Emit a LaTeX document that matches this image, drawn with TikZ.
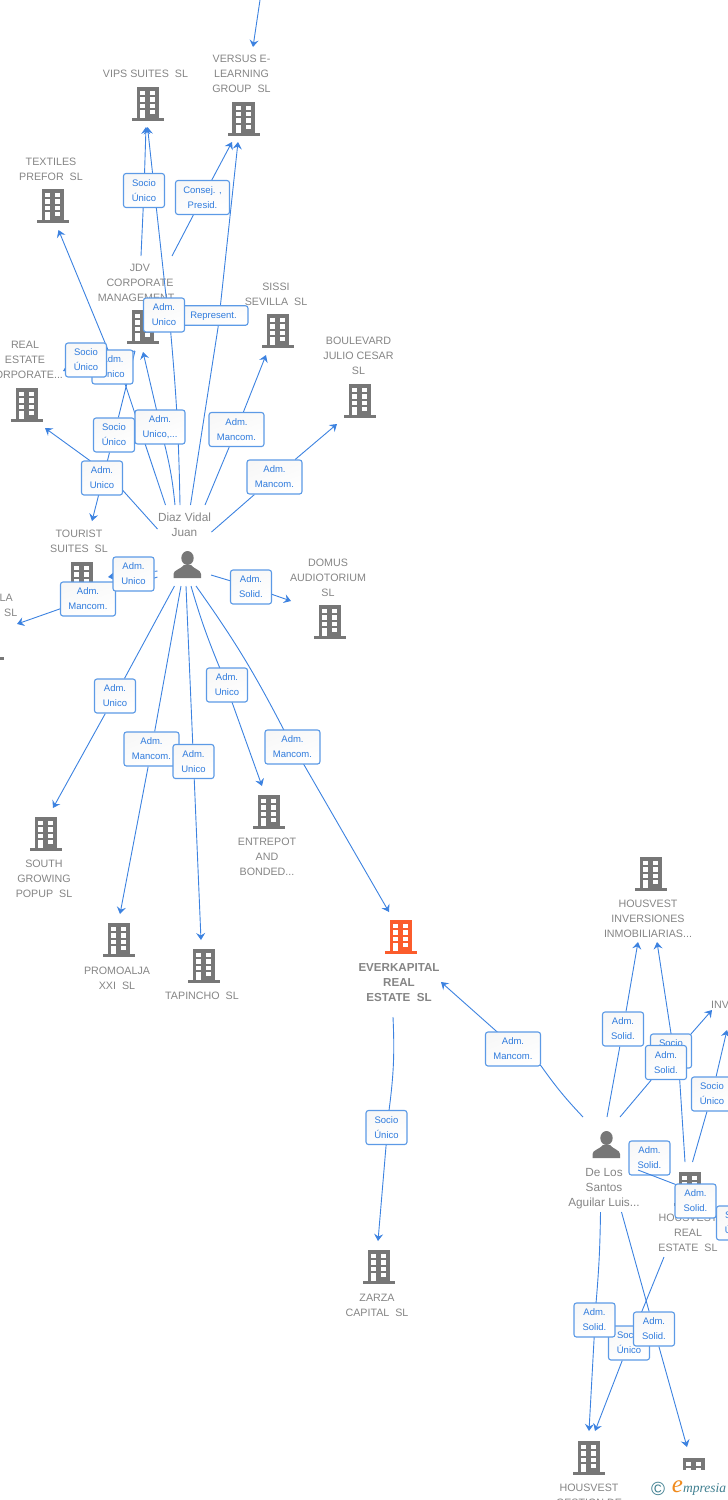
\documentclass[tikz,border=0pt]{standalone}
\usepackage{fontspec}
\setmainfont{Liberation Sans}
\newfontfamily\logofont{Liberation Serif}
\usetikzlibrary{arrows.meta,backgrounds}
\definecolor{linkblue}{HTML}{3C82E0}
\definecolor{boxblue}{HTML}{5C9AE6}
\definecolor{textblue}{HTML}{2F7BDD}
\definecolor{lblgray}{HTML}{858585}
\definecolor{iconfill}{HTML}{777777}
\definecolor{everorange}{HTML}{FB5C2C}
\definecolor{logoteal}{HTML}{3F7F90}
\definecolor{logoorange}{HTML}{F08A1C}

\begin{document}
\begin{tikzpicture}[x=1pt,y=-1pt,
    link/.style={linkblue, line width=0.9pt},
    arrowlink/.style={link, -{Stealth[length=7pt,width=9pt,inset=2.5pt]}},
    rolebox/.style={draw=boxblue, line width=1.1pt, rounded corners=2.5pt, top color=black!3, bottom color=white, shading angle=20,
      text=textblue, align=center, inner sep=0pt, minimum width=41pt, minimum height=34pt, font=\fontsize{9.5}{15}\selectfont,
      execute at begin node=\rule{0pt}{8.6pt}},
    widebox/.style={rolebox, minimum width=55pt},
    lbl/.style={text=lblgray, align=center, inner sep=0pt, yshift=-0.8pt, font=\fontsize{10.7}{15}\selectfont},
    who/.style={lbl, font=\fontsize{11.8}{15}\selectfont},
    bld/.pic={
      \fill[pic actions] (-11.3,-17) rectangle (11.3,14);
      \fill[pic actions] (-16,14) rectangle (16,17);
      \foreach \y in {-13,-6.7,-0.4} {
        \fill[white] (-8,\y) rectangle (-2.7,\y+4.4);
        \fill[white] (2,\y) rectangle (7.3,\y+4.4);
      }
      \fill[white] (-8,6) rectangle (-2.7,14);
      \fill[white] (2,6) rectangle (7.3,10.4);
    },
    person/.pic={
      \fill[iconfill] (0.5,-7) ellipse[x radius=6.2, y radius=7];
      \fill[iconfill] (-13.5,13) -- (-13.5,9) .. controls (-13.5,5) and (-6,4) .. (-3,0) -- (4,0) .. controls (7,4) and (14,5) .. (14,9) -- (14,13) -- cycle;
    }]

      \useasboundingbox (0,0) rectangle (728,1500);

      \node[rolebox] (bxsocvips) at (144,190.5) {Socio\\Único};
      \node[rolebox, minimum width=54pt] (bxconsej) at (202.5,197.5) {Consej. ,\\Presid.};
      \node[rolebox, minimum width=69pt, minimum height=19.5pt] (bxrepr) at (213.5,315.5) {Represent.};
      \node[rolebox] (bxadmvips) at (164,315) {Adm.\\Unico};
      \node[rolebox] (bxadmtex) at (112.5,367) {Adm.\\Unico};
      \node[rolebox] (bxsocre) at (86,360) {Socio\\Único};
      \node[rolebox, minimum width=50pt] (bxadmjdv) at (160,427) {Adm.\\Unico,...};
      \node[widebox] (bxadmsis) at (236.5,429.5) {Adm.\\Mancom.};
      \node[widebox] (bxadmbou) at (274.5,477) {Adm.\\Mancom.};
      \node[rolebox] (bxsoctou) at (114,435) {Socio\\Único};
      \node[rolebox] (bxadmre) at (102,478) {Adm.\\Unico};
      \node[widebox] (bxmanla) at (88,599) {Adm.\\Mancom.};
      \node[rolebox] (bxadmtou) at (133.5,574) {Adm.\\Unico};
      \node[rolebox] (bxsoldom) at (251,587) {Adm.\\Solid.};
      \node[rolebox] (bxadmsou) at (115,696) {Adm.\\Unico};
      \node[widebox] (bxmancpro) at (151.5,749) {Adm.\\Mancom.};
      \node[rolebox] (bxadmtap) at (193.5,761.5) {Adm.\\Unico};
      \node[rolebox] (bxadment) at (227,685) {Adm.\\Unico};
      \node[widebox] (bxmancev) at (292.5,747) {Adm.\\Mancom.};
      \node[rolebox] (bxsoczar) at (386.5,1127.5) {Socio\\Único};
      \node[widebox] (bxmancde) at (513,1049) {Adm.\\Mancom.};
      \node[rolebox] (bxsolinv) at (623,1029) {Adm.\\Solid.};
      \node[rolebox] (bxsocinv) at (671,1051) {Socio\\Único};
      \node[rolebox] (bxsolin2) at (666,1062.5) {Adm.\\Solid.};
      \node[rolebox] (bxsocun) at (712,1094) {Socio\\Único};
      \node[rolebox] (bxsolbl) at (649.5,1158) {Adm.\\Solid.};
      \coordinate (bl0) at (638,1170); \coordinate (bl1) at (677,1185); \coordinate (bl2) at (730,1222);
      \draw[link] (bl0) -- (bl1) -- (bl2);
      \node[rolebox] (bxsocrt) at (737,1223) {Socio\\Único};
      \node[rolebox] (bxsolrl) at (695.5,1201) {Adm.\\Solid.};
      \node[rolebox] (bxsocges) at (629,1343) {Socio\\Único};
      \node[rolebox] (bxsolges) at (594.5,1320) {Adm.\\Solid.};
      \node[rolebox] (bxsolfin) at (654,1329) {Adm.\\Solid.};

      \node[fill=white, minimum width=83pt, minimum height=30pt, inner sep=0pt] (logobox) at (686.5,1485) {};
      \node[text=logoteal, inner sep=0pt, font=\fontsize{19}{19}\selectfont] (logoc) at (658,1489) {©};
      \node[text=logoorange, inner sep=0pt, font=\logofont\itshape\fontsize{25}{25}\selectfont] (logoe) at (677.5,1487) {e};
      \node[text=logoteal, inner sep=0pt, anchor=west, font=\logofont\itshape\fontsize{13.5}{13.5}\selectfont] (logot) at (683,1489) {mpresia};

      \begin{scope}[on background layer]
      \pic[fill=iconfill] at (148,104) {bld};
      \pic[fill=iconfill] at (243.5,118.5) {bld};
      \pic[fill=iconfill] at (53,206) {bld};
      \pic[fill=iconfill] at (143,327) {bld};
      \pic[fill=iconfill] at (278,331) {bld};
      \pic[fill=iconfill] at (360,401) {bld};
      \pic[fill=iconfill] at (27,405) {bld};
      \pic[fill=iconfill] at (82,579) {bld};
      \pic[fill=iconfill] at (-12,643) {bld};
      \pic[fill=iconfill] at (330,622) {bld};
      \pic[fill=iconfill] at (46,834) {bld};
      \pic[fill=iconfill] at (119,940) {bld};
      \pic[fill=iconfill] at (204,966) {bld};
      \pic[fill=iconfill] at (269,812) {bld};
      \pic[fill=everorange] at (401,937) {bld};
      \pic[fill=iconfill] at (379,1267) {bld};
      \pic[fill=iconfill] at (651,874) {bld};
      \pic[fill=iconfill] at (690,1189) {bld};
      \pic[fill=iconfill] at (589,1458) {bld};
      \pic[fill=iconfill] at (694,1475) {bld};
      \pic at (187,565) {person};
      \pic at (606,1145) {person};

      \node[lbl] (lblvips) at (145.5,73) {VIPS SUITES\ \ SL};
      \node[lbl] (lblversus) at (241.5,73) {VERSUS E-\\LEARNING\\GROUP\ \ SL};
      \node[lbl] (lbltex) at (51,168.5) {TEXTILES\\PREFOR\ \ SL};
      \node[lbl] (lbljdv) at (140,282) {JDV\\CORPORATE\\MANAGEMENT...};
      \node[lbl] (lblsis) at (276,293.5) {SISSI\\SEVILLA\ \ SL};
      \node[lbl] (lblbou) at (358.5,355) {BOULEVARD\\JULIO CESAR\\SL};
      \node[lbl] (lblre) at (25,359) {REAL\\ESTATE\\CORPORATE...};
      \node[lbl] (lbltou) at (79,540.5) {TOURIST\\SUITES\ \ SL};
      \node[lbl, anchor=east] (lblla) at (13,597) {LA};
      \node[lbl, anchor=east] (lblsl) at (17.5,612) {SL};
      \node[lbl] (lbldom) at (328,577) {DOMUS\\AUDIOTORIUM\\SL};
      \node[lbl] (lblsou) at (44,878) {SOUTH\\GROWING\\POPUP\ \ SL};
      \node[lbl] (lblpro) at (117,977.5) {PROMOALJA\\XXI\ \ SL};
      \node[lbl] (lbltap) at (202,995) {TAPINCHO\ \ SL};
      \node[lbl] (lblent) at (267,856) {ENTREPOT\\AND\\BONDED...};
      \node[lbl, font=\bfseries\fontsize{11.6}{15}\selectfont] (lblev) at (399,981.5) {EVERKAPITAL\\REAL\\ESTATE\ \ SL};
      \node[lbl] (lblzar) at (377,1304.5) {ZARZA\\CAPITAL\ \ SL};
      \node[lbl] (lblhin) at (648,918) {HOUSVEST\\INVERSIONES\\INMOBILIARIAS...};
      \node[lbl, anchor=west] (lblinv) at (711,1004) {INV};
      \node[who] (lbldiaz) at (184.5,524) {Diaz Vidal\\Juan};
      \node[who] (lbldls) at (604,1188) {De Los\\Santos\\Aguilar Luis...};
      \node[lbl] (lblhre) at (688,1232) {HOUSVEST\\REAL\\ESTATE\ \ SL};
      \node[lbl] (lblhge) at (589,1494.5) {HOUSVEST\\GESTION DE};

      \coordinate (topa) at (260,0); \coordinate (topb) at (253,47);
      \coordinate (vips0) at (180,505); \coordinate (vips1) at (147.5,127);
      \coordinate (jvips0) at (141,256); \coordinate (jvips1) at (146,127);
      \coordinate (jver0) at (172,256); \coordinate (jver1) at (232,142);
      \coordinate (ver0) at (190.5,505); \coordinate (ver1) at (238,142);
      \coordinate (tex0) at (165.5,505); \coordinate (tex1) at (58.5,230);
      \coordinate (jdv0) at (175,505); \coordinate (jdv1) at (143,352);
      \coordinate (sis0) at (205,505); \coordinate (sis1) at (266,355);
      \coordinate (bou0) at (211.5,532); \coordinate (bou1) at (337,424);
      \coordinate (re0) at (157.5,529); \coordinate (re1) at (45,428);
      \coordinate (jre0) at (135,351); \coordinate (jre1) at (63,371);
      \coordinate (jtou0) at (135,351); \coordinate (jtou1) at (92,521);
      \coordinate (tou0) at (157.5,571); \coordinate (tou1) at (108,577);
      \coordinate (la0) at (157.5,577); \coordinate (la1) at (17,624);
      \coordinate (dom0) at (211,575); \coordinate (dom1) at (291,601);
      \coordinate (sou0) at (174.5,586); \coordinate (sou1) at (53,808);
      \coordinate (pro0) at (181,586); \coordinate (pro1) at (120,914);
      \coordinate (tap0) at (186,586); \coordinate (tap1) at (201,940);
      \coordinate (ent0) at (191,586); \coordinate (ent1) at (262,786);
      \coordinate (ev0) at (196,586); \coordinate (ev1) at (389,912);
      \coordinate (zar0) at (393,1017); \coordinate (zar1) at (378,1241);
      \coordinate (dev0) at (583,1117); \coordinate (dev1) at (441,982);
      \coordinate (dhi0) at (607,1117); \coordinate (dhi1) at (638,942);
      \coordinate (rhi0) at (685,1162); \coordinate (rhi1) at (657,942);
      \coordinate (din0) at (620,1117); \coordinate (din1) at (712,1010);
      \coordinate (rin0) at (692.5,1162); \coordinate (rin1) at (727,1030);
      \coordinate (dge0) at (600.5,1212); \coordinate (dge1) at (589,1431);
      \coordinate (rge0) at (664,1257); \coordinate (rge1) at (595,1431);
      \coordinate (dfi0) at (621.5,1212); \coordinate (dfi1) at (687,1447);

      \draw[arrowlink] (topa) -- (topb);
      \draw[arrowlink] (vips0) to[bend right=2] (bxadmvips.-69) -- (bxadmvips.83) -- (vips1);
      \draw[arrowlink] (jvips0) -- (bxsocvips) -- (jvips1);
      \draw[arrowlink] (jver0) -- (bxconsej) -- (jver1);
      \draw[arrowlink] (ver0) -- (bxrepr.-65) -- (bxrepr.56) -- (ver1);
      \draw[arrowlink] (tex0) -- (bxadmtex.-54) -- (bxadmtex.105) -- (tex1);
      \draw[arrowlink] (jdv0) to[bend right=4] (bxadmjdv) -- (jdv1);
      \draw[arrowlink] (sis0) -- (bxadmsis) -- (sis1);
      \draw[arrowlink] (bou0) -- (bxadmbou) -- (bou1);
      \draw[arrowlink] (re0) -- (bxadmre.-31) -- (bxadmre.125) -- (re1);
      \draw[arrowlink] (jre0) -- (bxsocre) -- (jre1);
      \draw[arrowlink] (jtou0) -- (bxsoctou) -- (jtou1);
      \draw[arrowlink] (tou0) -- (bxadmtou) -- (tou1);
      \draw[arrowlink] (la0) -- (bxmanla) -- (la1);
      \draw[arrowlink] (dom0) -- (bxsoldom) -- (dom1);
      \draw[arrowlink] (sou0) -- (bxadmsou) -- (sou1);
      \draw[arrowlink] (pro0) -- (bxmancpro) -- (pro1);
      \draw[arrowlink] (tap0) -- (bxadmtap) -- (tap1);
      \draw[arrowlink] (ent0) to[bend right=3] (bxadment) -- (ent1);
      \draw[arrowlink] (ev0) to[bend left=4] (bxmancev) -- (ev1);
      \draw[arrowlink] (zar0) to[bend left=5] (bxsoczar) -- (zar1);
      \draw[arrowlink] (dev0) to[bend left=4] (bxmancde.-31) -- (bxmancde.133) -- (dev1);
      \draw[arrowlink] (dhi0) -- (bxsolinv) -- (dhi1);
      \draw[arrowlink] (rhi0) -- (bxsolin2.-52) -- (bxsocinv.90) -- (rhi1);
      \draw[arrowlink] (din0) -- (bxsolin2) -- (din1);
      \draw[arrowlink] (rin0) -- (bxsocun) -- (rin1);
      \draw[arrowlink] (dge0) to[bend left=2] (bxsolges) -- (dge1);
      \draw[arrowlink] (rge0) -- (bxsocges) -- (rge1);
      \draw[arrowlink] (dfi0) -- (bxsolfin) -- (dfi1);
      \end{scope}

    \end{tikzpicture}
\end{document}
